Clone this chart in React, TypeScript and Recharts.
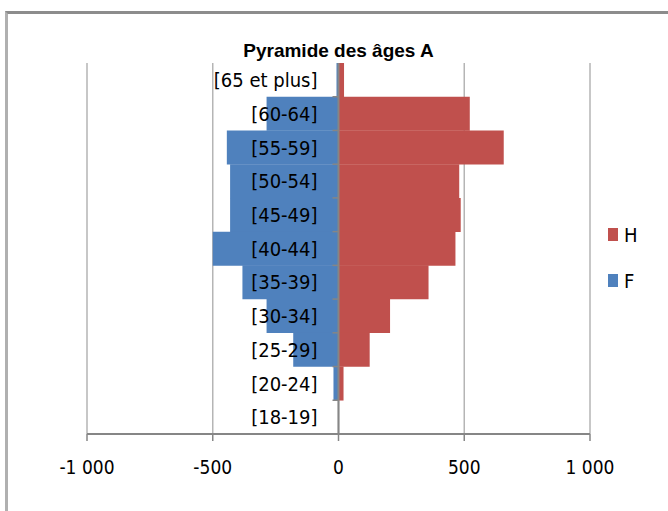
import { BarChart, Bar, XAxis, YAxis, CartesianGrid, Legend, ReferenceLine } from "recharts";

const ageGroups = [
  "[65 et plus]",
  "[60-64]",
  "[55-59]",
  "[50-54]",
  "[45-49]",
  "[40-44]",
  "[35-39]",
  "[30-34]",
  "[25-29]",
  "[20-24]",
  "[18-19]",
];
const hommes = [22, 522, 657, 480, 486, 465, 358, 205, 124, 20, 0];
const femmes = [-8, -286, -444, -431, -431, -500, -382, -286, -180, -20, 0];
const xTicks = [-1000, -500, 0, 500, 1000];

const RED = "#C0504D";
const BLUE = "#4F81BD";
const AXIS = "#868686";
const FONT = "'DejaVu Sans Condensed', 'Liberation Sans Narrow', 'Liberation Sans', sans-serif";
const TITLE_FONT = "'Liberation Sans', Arial, sans-serif";

const W = 668;
const H = 511;
const PLOT_LEFT = 87;
const PLOT_RIGHT = 590;
const PLOT_TOP = 63;
const PLOT_BOTTOM = 434;
const ZERO_X = (PLOT_LEFT + PLOT_RIGHT) / 2;
const BAND = (PLOT_BOTTOM - PLOT_TOP) / ageGroups.length;

const data = ageGroups.map((age, i) => ({ age, H: hommes[i], F: femmes[i] }));

const fmt = (v: number) => {
  const s = Math.abs(v).toString().replace(/\B(?=(\d{3})+(?!\d))/g, "\u00a0");
  return v < 0 ? "-" + s : s;
};

// category labels sit just left of the zero line, drawn over the bars
const renderAgeTick = (props: any) => {
  const { y, payload, index } = props;
  return (
    <g key={`age-${index}`}>
      <text
        x={ZERO_X - 21}
        y={y}
        dy="0.36em"
        textAnchor="end"
        fill="#000"
        fontSize={20}
        fontFamily={FONT}
      >
        {payload.value}
      </text>
      {index < ageGroups.length - 1 && (
        <line
          x1={ZERO_X - 6}
          x2={ZERO_X}
          y1={y + BAND / 2}
          y2={y + BAND / 2}
          stroke={AXIS}
          strokeWidth={1.5}
        />
      )}
    </g>
  );
};

function LegendContent() {
  const items = [
    { label: "H", color: RED },
    { label: "F", color: BLUE },
  ];
  return (
    <div style={{ paddingLeft: 18, paddingTop: 4 }}>
      {items.map((it, i) => (
        <div
          key={it.label}
          style={{
            display: "flex",
            alignItems: "center",
            height: 24,
            marginTop: i === 0 ? 0 : 22,
            fontFamily: FONT,
            fontSize: 20,
            color: "#000",
          }}
        >
          <span style={{ width: 10, height: 13, background: it.color, marginRight: 6 }} />
          {it.label}
        </div>
      ))}
    </div>
  );
}

export default function App() {
  return (
    <div style={{ position: "absolute", left: 0, top: 0, width: W, height: H, background: "#fff" }}>
      <div
        style={{
          position: "absolute",
          left: 5,
          top: 11,
          width: W - 5,
          height: H - 11,
          borderTop: "3px solid #8c8c8c",
          borderLeft: "3px solid #b0b0b0",
          boxSizing: "border-box",
        }}
      />
      <div
        style={{
          position: "absolute",
          left: 0,
          width: ZERO_X * 2,
          top: 40,
          textAlign: "center",
          fontFamily: TITLE_FONT,
          fontWeight: "bold",
          fontSize: 19,
          color: "#000",
        }}
      >
        Pyramide des âges A
      </div>
      <div style={{ position: "absolute", left: 0, top: 0 }}>
        <BarChart
          width={W}
          height={H}
          data={data}
          layout="vertical"
          stackOffset="sign"
          barCategoryGap={0}
          margin={{ top: PLOT_TOP, right: 18, bottom: H - PLOT_BOTTOM - 40, left: PLOT_LEFT - 1 }}
        >
          <CartesianGrid horizontal={false} stroke="#b5b5b5" strokeWidth={1.5} />
          <XAxis
            type="number"
            domain={[-1000, 1000]}
            ticks={xTicks}
            tickFormatter={fmt}
            height={40}
            axisLine={{ stroke: AXIS, strokeWidth: 2 }}
            tickLine={{ stroke: AXIS, strokeWidth: 1.5 }}
            tickSize={7}
            tickMargin={20}
            tick={{ fill: "#000", fontSize: 19, fontFamily: FONT }}
          />
          <Legend
            layout="vertical"
            align="right"
            verticalAlign="middle"
            wrapperStyle={{ width: 60 }}
            content={<LegendContent />}
          />
          <Bar dataKey="H" name="H" stackId="a" fill={RED} isAnimationActive={false} />
          <Bar dataKey="F" name="F" stackId="a" fill={BLUE} isAnimationActive={false} />
          <ReferenceLine x={0} stroke={AXIS} strokeWidth={2} />
          <YAxis
            type="category"
            dataKey="age"
            width={1}
            axisLine={false}
            tickLine={false}
            tick={renderAgeTick}
            interval={0}
          />
        </BarChart>
      </div>
    </div>
  );
}
